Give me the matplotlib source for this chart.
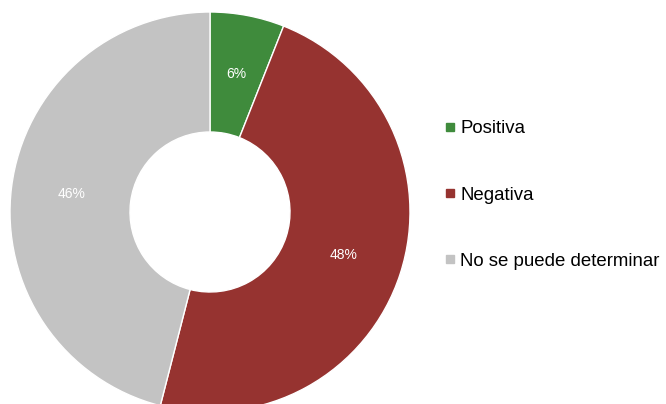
import matplotlib.pyplot as plt
from matplotlib.lines import Line2D

plt.rcParams['font.family'] = ['Liberation Sans', 'DejaVu Sans']

categories = ['Positiva', 'Negativa', 'No se puede determinar']
shares = [6, 48, 46]
colors = ['#3f8b3c', '#963330', '#c3c3c3']

fig = plt.figure(figsize=(6.66, 4.04), dpi=100)
ax = fig.add_axes([0, 0, 1, 1])

wedges, texts, autotexts = ax.pie(
    shares, colors=colors, startangle=90, counterclock=False,
    center=(210, 192), radius=200, frame=True,
    autopct='%d%%', pctdistance=0.7,
    wedgeprops=dict(width=120, edgecolor='white', linewidth=1),
    textprops=dict(color='white', fontsize=10),
)
ax.set_xlim(0, 666)
ax.set_ylim(0, 404)
ax.set_aspect('equal')
ax.axis('off')

handles = [Line2D([], [], marker='s', linestyle='none', markersize=5.5,
                  markerfacecolor=c, markeredgecolor=c) for c in colors]
ax.legend(handles, categories, loc='center left', bbox_to_anchor=(0.670, 0.517),
          frameon=False, fontsize=13.4, labelspacing=2.65, handlelength=0.45,
          handletextpad=0.3, borderpad=0, borderaxespad=0)

fig.savefig('out.png', dpi=100)
